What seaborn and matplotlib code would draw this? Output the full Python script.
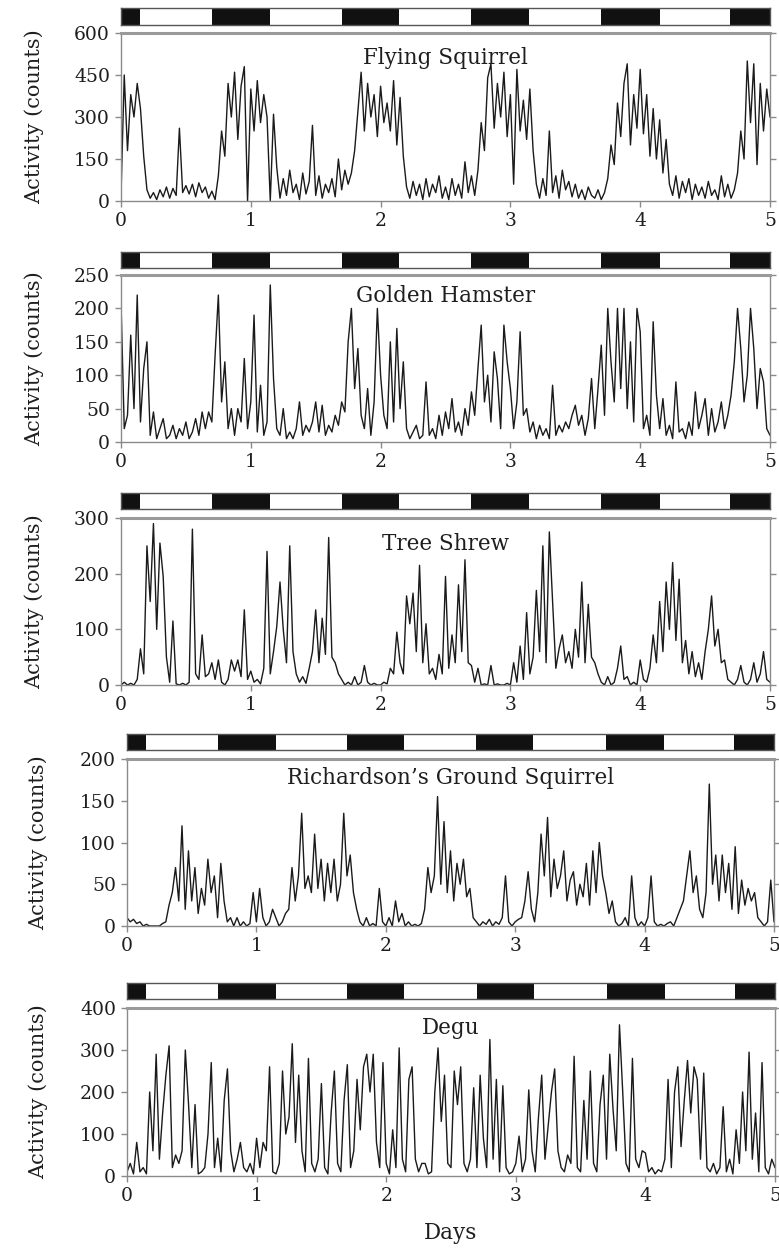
import numpy as np
import pandas as pd
import seaborn as sns
import matplotlib.pyplot as plt

# sampling grid, 0.025 day bins over 5 days
days = np.linspace(0, 5, 201)

flying_squirrel = [
    20, 450, 180, 380, 300, 420, 330, 160, 40, 10, 30, 5, 40, 15, 50, 10, 45, 20, 260, 30,
    55, 25, 60, 15, 65, 30, 50, 10, 35, 5, 90, 250, 160, 420, 300, 460, 220, 410, 480, 0,
    400, 250, 430, 280, 380, 300, 0, 310, 120, 10, 80, 20, 110, 30, 60, 5, 100, 25, 70, 270,
    20, 90, 10, 60, 30, 80, 15, 150, 40, 110, 60, 100, 180, 320, 460, 250, 420, 300, 380, 230,
    410, 280, 350, 250, 430, 200, 370, 160, 50, 10, 70, 20, 60, 5, 80, 15, 60, 30, 90, 10,
    50, 5, 80, 20, 60, 10, 140, 30, 90, 20, 110, 280, 180, 440, 490, 260, 420, 300, 460, 230,
    380, 60, 470, 250, 360, 220, 400, 180, 60, 10, 80, 20, 250, 30, 90, 10, 110, 40, 70, 15,
    60, 10, 40, 5, 50, 20, 10, 40, 5, 30, 80, 200, 130, 350, 230, 420, 490, 200, 380, 260,
    470, 240, 380, 160, 330, 150, 290, 100, 220, 60, 20, 90, 10, 70, 30, 80, 5, 60, 20, 50,
    10, 70, 20, 40, 5, 90, 15, 60, 10, 40, 100, 250, 150, 500, 280, 490, 130, 420, 250, 400,
    300,
]

golden_hamster = [
    210, 20, 40, 160, 50, 220, 30, 110, 150, 10, 45, 5, 20, 35, 5, 10, 25, 5, 20, 10,
    30, 5, 15, 35, 10, 45, 20, 45, 30, 130, 220, 60, 120, 20, 50, 10, 50, 30, 125, 20,
    60, 190, 15, 85, 10, 30, 235, 95, 20, 10, 50, 5, 15, 5, 20, 60, 10, 25, 15, 30,
    60, 15, 55, 10, 25, 15, 40, 25, 60, 45, 150, 200, 80, 140, 40, 20, 80, 10, 60, 200,
    100, 40, 20, 150, 30, 170, 50, 120, 20, 5, 15, 25, 5, 10, 90, 10, 20, 5, 40, 10,
    45, 20, 65, 15, 30, 10, 50, 25, 75, 40, 110, 175, 60, 100, 30, 135, 95, 20, 175, 120,
    80, 20, 60, 165, 40, 50, 15, 30, 5, 25, 10, 20, 5, 85, 10, 25, 15, 30, 20, 40,
    55, 25, 40, 10, 35, 95, 20, 80, 145, 40, 200, 120, 60, 200, 80, 200, 50, 150, 30, 200,
    165, 20, 40, 10, 180, 70, 20, 65, 10, 25, 5, 90, 15, 20, 5, 30, 10, 75, 20, 40,
    65, 10, 50, 15, 30, 60, 20, 40, 70, 120, 200, 140, 60, 100, 200, 140, 50, 110, 90, 20,
    10,
]

tree_shrew = [
    0, 5, 0, 3, 0, 10, 65, 20, 250, 150, 290, 100, 255, 195, 50, 5, 115, 2, 0, 3,
    0, 5, 280, 20, 10, 90, 15, 20, 40, 10, 45, 5, 0, 10, 45, 25, 45, 15, 135, 10,
    25, 5, 10, 2, 30, 240, 20, 60, 105, 185, 100, 40, 250, 60, 20, 5, 15, 3, 30, 60,
    135, 40, 120, 55, 265, 50, 40, 20, 10, 0, 5, 0, 15, 0, 5, 35, 5, 0, 3, 0,
    0, 5, 2, 30, 20, 95, 40, 20, 160, 110, 165, 60, 215, 40, 110, 20, 30, 10, 55, 20,
    195, 30, 90, 40, 180, 60, 225, 40, 35, 5, 30, 0, 2, 0, 35, 0, 2, 0, 0, 3,
    0, 40, 5, 70, 10, 130, 20, 50, 170, 60, 250, 40, 275, 150, 30, 65, 90, 40, 60, 30,
    100, 50, 185, 40, 145, 50, 40, 20, 5, 0, 15, 0, 5, 30, 70, 10, 15, 0, 5, 0,
    45, 10, 5, 30, 90, 40, 150, 60, 185, 100, 220, 80, 190, 40, 80, 20, 60, 15, 40, 10,
    60, 100, 160, 70, 100, 40, 45, 10, 5, 0, 10, 35, 5, 0, 10, 40, 5, 20, 60, 10,
    5,
]

ground_squirrel = [
    10, 5, 8, 3, 5, 0, 2, 0, 0, 0, 0, 3, 5, 25, 40, 70, 30, 120, 20, 90,
    30, 70, 15, 45, 25, 80, 40, 60, 10, 75, 30, 5, 10, 0, 10, 0, 5, 0, 3, 40,
    5, 45, 10, 0, 5, 20, 10, 0, 5, 15, 20, 70, 30, 60, 135, 45, 60, 40, 110, 45,
    80, 30, 75, 40, 80, 30, 50, 135, 60, 85, 40, 20, 5, 0, 10, 0, 3, 0, 45, 5,
    0, 10, 0, 30, 5, 15, 0, 5, 0, 2, 0, 3, 20, 70, 40, 60, 155, 50, 125, 40,
    90, 30, 75, 50, 80, 35, 45, 10, 5, 0, 5, 2, 8, 0, 5, 2, 10, 60, 5, 0,
    5, 8, 10, 30, 65, 20, 5, 40, 110, 60, 130, 35, 80, 45, 60, 90, 30, 55, 65, 25,
    50, 35, 75, 25, 90, 40, 100, 60, 40, 15, 30, 5, 0, 3, 10, 0, 60, 10, 0, 5,
    0, 10, 60, 5, 0, 2, 0, 3, 5, 0, 10, 20, 30, 60, 90, 40, 60, 20, 10, 40,
    170, 50, 85, 30, 85, 40, 75, 20, 95, 15, 55, 25, 45, 30, 40, 10, 5, 0, 5, 55,
    5,
]

degu = [
    10, 30, 5, 80, 10, 20, 5, 200, 60, 290, 40, 150, 240, 310, 20, 50, 30, 60, 300, 170,
    20, 170, 5, 10, 20, 100, 270, 20, 90, 10, 180, 255, 60, 10, 40, 80, 20, 10, 30, 5,
    90, 20, 80, 60, 260, 10, 5, 30, 250, 100, 140, 315, 80, 240, 60, 10, 280, 30, 10, 40,
    220, 20, 5, 150, 250, 30, 10, 180, 265, 20, 60, 230, 110, 260, 290, 200, 290, 80, 20, 270,
    30, 5, 110, 20, 305, 40, 10, 230, 260, 40, 10, 30, 30, 5, 10, 200, 305, 130, 240, 30,
    20, 250, 170, 260, 30, 10, 40, 210, 20, 240, 90, 20, 325, 40, 230, 10, 215, 20, 5, 10,
    30, 95, 10, 40, 205, 60, 10, 140, 240, 40, 120, 200, 255, 60, 20, 10, 50, 30, 285, 20,
    10, 180, 40, 250, 30, 10, 170, 240, 40, 290, 160, 60, 360, 200, 30, 10, 280, 40, 20, 60,
    55, 10, 20, 5, 15, 10, 40, 230, 20, 200, 260, 70, 180, 275, 150, 260, 230, 40, 245, 20,
    10, 30, 5, 20, 165, 10, 40, 5, 110, 30, 200, 60, 295, 40, 150, 10, 270, 20, 5, 40,
    20,
]

species = ["Flying Squirrel", "Golden Hamster", "Tree Shrew",
           "Richardson\u2019s Ground Squirrel", "Degu"]
series = [flying_squirrel, golden_hamster, tree_shrew, ground_squirrel, degu]
y_max = [600, 250, 300, 200, 400]
y_step = [150, 50, 100, 50, 100]

# dark phases of the light/dark cycle (days)
dark_on = [0.0, 0.70, 1.70, 2.70, 3.70, 4.69]
dark_off = [0.15, 1.15, 2.14, 3.14, 4.15, 5.0]

sns.set_style("ticks")
plt.rcParams["font.family"] = ["DejaVu Serif"]

W, H = 779, 1257
fig = plt.figure(figsize=(W / 100, H / 100), dpi=100)

# pixel layout: (bar_top, bar_bottom, ax_top, ax_bottom, left, right, title_y, ylabel_x)
layout = [
    (8, 25, 33, 201, 121, 770, 0.915, 44),
    (252, 268, 275, 442, 121, 770, 0.94, 44),
    (493, 509, 518, 685, 121, 770, 0.91, 44),
    (734, 750, 759, 926, 127, 774, 0.95, 48),
    (983, 999, 1008, 1176, 127, 775, 0.945, 48),
]

text_col = "#1e1e1e"
spine_col = "#8a8a8a"

for name, vals, ym, ys, (bt, bb, at, ab, l, r, ty, lx) in zip(
        species, series, y_max, y_step, layout):
    # light/dark bar
    bax = fig.add_axes([l / W, 1 - bb / H, (r - l) / W, (bb - bt) / H])
    bax.set_xlim(0, 5)
    bax.set_ylim(0, 1)
    for on, off in zip(dark_on, dark_off):
        bax.axvspan(on, off, color="#111111", lw=0)
    bax.set_xticks([])
    bax.set_yticks([])
    for s in bax.spines.values():
        s.set_color("#555555")
        s.set_linewidth(1.0)

    ax = fig.add_axes([l / W, 1 - ab / H, (r - l) / W, (ab - at) / H])
    df = pd.DataFrame({"day": days, "activity": vals})
    sns.lineplot(data=df, x="day", y="activity", ax=ax, color="#1a1a1a",
                 lw=1.0, estimator=None)
    ax.set_xlim(0, 5)
    ax.set_ylim(0, ym)
    ax.set_xticks(range(6))
    ax.set_yticks(np.arange(0, ym + 1, ys))
    ax.tick_params(axis="both", labelsize=13.5, colors=spine_col, labelcolor=text_col,
                   length=4, width=1, direction="out", pad=4)
    ax.tick_params(axis="y", right=True)
    for s in ax.spines.values():
        s.set_visible(True)
        s.set_color(spine_col)
        s.set_linewidth(1.0)
    ax.spines["top"].set_linewidth(2.2)
    ax.spines["top"].set_color("#9a9a9a")
    ax.set_xlabel("")
    ax.set_ylabel("Activity (counts)", fontsize=15, color=text_col)
    ax.yaxis.set_label_coords((lx - l) / (r - l), 0.5)
    ax.text(0.5, ty, name, transform=ax.transAxes, ha="center", va="top",
            fontsize=15.5, color=text_col)

ax.set_xlabel("Days", fontsize=15.5, color=text_col, labelpad=12)

fig.savefig("out.png", dpi=100)
